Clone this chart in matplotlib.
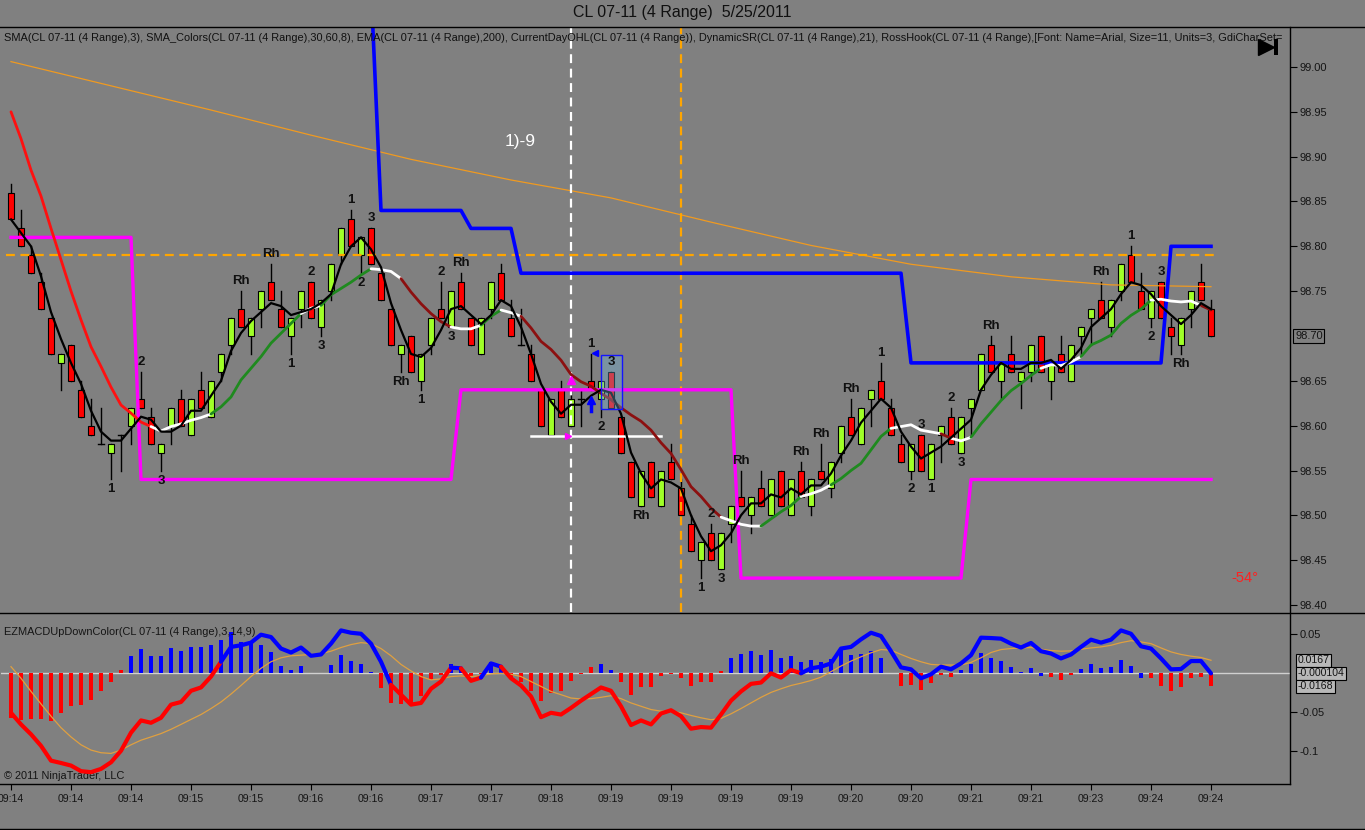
import matplotlib
matplotlib.use("Agg")
import matplotlib.pyplot as plt
from matplotlib.patches import Rectangle
from matplotlib.lines import Line2D
import numpy as np
import pandas as pd

plt.rcParams['font.family'] = ['Liberation Sans', 'DejaVu Sans']

BG = '#808080'

# ---- price bars (CL 07-11, 4 range) ----
opens = [98.86, 98.82, 98.79, 98.76, 98.72, 98.67, 98.69, 98.64, 98.60, 98.58,
         98.57, 98.59, 98.60, 98.63, 98.61, 98.57, 98.60, 98.63, 98.59, 98.64,
         98.61, 98.66, 98.69, 98.73, 98.70, 98.73, 98.76, 98.73, 98.70, 98.73,
         98.76, 98.71, 98.75, 98.79, 98.83, 98.79, 98.82, 98.77, 98.73, 98.68,
         98.70, 98.65, 98.69, 98.73, 98.71, 98.76, 98.72, 98.68, 98.73, 98.77,
         98.72, 98.69, 98.68, 98.64, 98.59, 98.64, 98.60, 98.63, 98.65, 98.63,
         98.66, 98.61, 98.56, 98.51, 98.56, 98.51, 98.56, 98.53, 98.49, 98.45,
         98.48, 98.44, 98.49, 98.52, 98.50, 98.53, 98.50, 98.55, 98.50, 98.55,
         98.51, 98.55, 98.53, 98.57, 98.61, 98.58, 98.63, 98.65, 98.62, 98.58,
         98.55, 98.59, 98.54, 98.59, 98.61, 98.57, 98.62, 98.64, 98.69, 98.65,
         98.68, 98.65, 98.66, 98.70, 98.65, 98.68, 98.65, 98.70, 98.72, 98.74,
         98.71, 98.75, 98.79, 98.75, 98.72, 98.76, 98.71, 98.69, 98.73, 98.76,
         98.73]
highs = [98.87, 98.84, 98.80, 98.77, 98.72, 98.68, 98.69, 98.65, 98.63, 98.62,
         98.58, 98.59, 98.62, 98.66, 98.62, 98.58, 98.62, 98.64, 98.63, 98.66,
         98.65, 98.68, 98.72, 98.75, 98.72, 98.75, 98.78, 98.75, 98.72, 98.75,
         98.76, 98.74, 98.78, 98.82, 98.84, 98.81, 98.82, 98.77, 98.73, 98.69,
         98.70, 98.68, 98.72, 98.76, 98.75, 98.77, 98.72, 98.72, 98.76, 98.78,
         98.74, 98.73, 98.69, 98.64, 98.63, 98.65, 98.64, 98.64, 98.68, 98.65,
         98.66, 98.61, 98.56, 98.55, 98.56, 98.55, 98.58, 98.54, 98.50, 98.47,
         98.49, 98.48, 98.51, 98.55, 98.52, 98.55, 98.54, 98.55, 98.54, 98.56,
         98.54, 98.58, 98.56, 98.60, 98.63, 98.62, 98.64, 98.67, 98.63, 98.59,
         98.58, 98.59, 98.58, 98.60, 98.62, 98.61, 98.63, 98.68, 98.70, 98.67,
         98.70, 98.66, 98.69, 98.70, 98.67, 98.70, 98.69, 98.71, 98.73, 98.76,
         98.74, 98.78, 98.80, 98.77, 98.75, 98.76, 98.72, 98.72, 98.75, 98.78,
         98.74]
lows = [98.83, 98.80, 98.77, 98.73, 98.68, 98.64, 98.65, 98.61, 98.59, 98.58,
        98.54, 98.55, 98.58, 98.62, 98.58, 98.55, 98.58, 98.60, 98.59, 98.62,
        98.61, 98.65, 98.68, 98.71, 98.68, 98.71, 98.74, 98.71, 98.68, 98.71,
        98.72, 98.70, 98.74, 98.78, 98.80, 98.77, 98.78, 98.74, 98.69, 98.66,
        98.66, 98.64, 98.68, 98.72, 98.71, 98.73, 98.69, 98.68, 98.72, 98.74,
        98.70, 98.69, 98.65, 98.60, 98.59, 98.61, 98.60, 98.60, 98.64, 98.61,
        98.62, 98.57, 98.52, 98.51, 98.52, 98.51, 98.54, 98.50, 98.46, 98.43,
        98.45, 98.44, 98.47, 98.51, 98.48, 98.51, 98.50, 98.51, 98.50, 98.52,
        98.50, 98.54, 98.52, 98.56, 98.59, 98.58, 98.60, 98.63, 98.59, 98.56,
        98.54, 98.55, 98.54, 98.56, 98.58, 98.57, 98.59, 98.64, 98.66, 98.63,
        98.66, 98.62, 98.65, 98.66, 98.63, 98.66, 98.65, 98.68, 98.69, 98.72,
        98.70, 98.74, 98.76, 98.73, 98.71, 98.72, 98.68, 98.68, 98.71, 98.74,
        98.70]
closes = [98.83, 98.80, 98.77, 98.73, 98.68, 98.68, 98.65, 98.61, 98.59, 98.58,
          98.58, 98.59, 98.62, 98.62, 98.58, 98.58, 98.62, 98.60, 98.63, 98.62,
          98.65, 98.68, 98.72, 98.71, 98.72, 98.75, 98.74, 98.71, 98.72, 98.75,
          98.72, 98.74, 98.78, 98.82, 98.80, 98.81, 98.78, 98.74, 98.69, 98.69,
          98.66, 98.68, 98.72, 98.72, 98.75, 98.73, 98.69, 98.72, 98.76, 98.74,
          98.70, 98.69, 98.65, 98.60, 98.63, 98.61, 98.63, 98.63, 98.64, 98.65,
          98.62, 98.57, 98.52, 98.55, 98.52, 98.55, 98.54, 98.50, 98.46, 98.47,
          98.45, 98.48, 98.51, 98.51, 98.52, 98.51, 98.54, 98.51, 98.54, 98.52,
          98.54, 98.54, 98.56, 98.60, 98.59, 98.62, 98.64, 98.63, 98.59, 98.56,
          98.58, 98.55, 98.58, 98.60, 98.58, 98.61, 98.63, 98.68, 98.66, 98.67,
          98.66, 98.66, 98.69, 98.66, 98.67, 98.66, 98.69, 98.71, 98.73, 98.72,
          98.74, 98.78, 98.76, 98.73, 98.75, 98.72, 98.70, 98.72, 98.75, 98.74,
          98.70]

# SMA_Colors line, read per bar, with its colour runs (r=steep down, m=down, w=flat, g=up)
sma_colors = [98.950, 98.920, 98.885, 98.856, 98.820, 98.785, 98.750, 98.718, 98.688, 98.666,
              98.643, 98.623, 98.614, 98.604, 98.599, 98.594, 98.599, 98.602, 98.606, 98.609,
              98.613, 98.621, 98.632, 98.651, 98.664, 98.677, 98.692, 98.703, 98.714, 98.725,
              98.731, 98.734, 98.746, 98.753, 98.760, 98.768, 98.775, 98.774, 98.772, 98.764,
              98.749, 98.736, 98.725, 98.716, 98.710, 98.708, 98.708, 98.712, 98.722, 98.729,
              98.726, 98.722, 98.709, 98.694, 98.685, 98.673, 98.657, 98.649, 98.644, 98.636,
              98.629, 98.620, 98.612, 98.605, 98.595, 98.581, 98.569, 98.551, 98.532, 98.521,
              98.508, 98.498, 98.494, 98.490, 98.488, 98.488, 98.496, 98.504, 98.511, 98.521,
              98.524, 98.528, 98.534, 98.541, 98.550, 98.558, 98.573, 98.588, 98.597, 98.599,
              98.601, 98.595, 98.593, 98.591, 98.586, 98.583, 98.587, 98.602, 98.615, 98.628,
              98.639, 98.647, 98.656, 98.664, 98.668, 98.667, 98.671, 98.677, 98.690, 98.695,
              98.701, 98.714, 98.723, 98.730, 98.740, 98.741, 98.739, 98.738, 98.739, 98.734,
              98.729]
sma_color_runs = [('r', 14), ('w', 6), ('g', 9), ('w', 2), ('g', 5), ('w', 3), ('m', 5),
                  ('w', 3), ('g', 2), ('w', 2), ('m', 20), ('w', 4), ('g', 4), ('w', 3),
                  ('g', 6), ('w', 5), ('m', 1), ('w', 2), ('g', 7), ('w', 4), ('g', 7),
                  ('w', 5), ('m', 2)]

# EMA(200), read every 10 bars
ema_bars = [0, 10, 20, 30, 40, 50, 60, 70, 80, 90, 100, 110, 120]
ema_vals = [99.006, 98.979, 98.952, 98.924, 98.897, 98.874, 98.854, 98.827, 98.801,
            98.780, 98.766, 98.757, 98.755]

# DynamicSR levels (blue) and CurrentDayOHL levels (magenta): first bar, last bar, value
dsr_first = [36, 37, 46, 51, 90, 116]
dsr_last = [36, 45, 50, 89, 115, 120]
dsr_vals = [99.09, 98.84, 98.82, 98.77, 98.67, 98.80]
ohl_first = [0, 13, 45, 73, 96]
ohl_last = [12, 44, 72, 95, 120]
ohl_vals = [98.81, 98.54, 98.64, 98.43, 98.54]
prior_level = 98.79

# RossHook labels: bar, text, above/below
hook_labels = [(10, '1', 'b'), (13, '2', 'a'), (15, '3', 'b'), (23, 'Rh', 'a'), (26, 'Rh', 'a'),
               (28, '1', 'b'), (30, '2', 'a'), (31, '3', 'b'), (34, '1', 'a'), (35, '2', 'b'),
               (36, '3', 'a'), (39, 'Rh', 'b'), (41, '1', 'b'), (43, '2', 'a'), (44, '3', 'b'),
               (45, 'Rh', 'a'), (58, '1', 'a'), (59, '2', 'b'), (60, '3', 'a'), (63, 'Rh', 'b'),
               (69, '1', 'b'), (70, '2', 'a'), (71, '3', 'b'), (73, 'Rh', 'a'), (79, 'Rh', 'a'),
               (81, 'Rh', 'a'), (84, 'Rh', 'a'), (87, '1', 'a'), (90, '2', 'b'), (91, '3', 'a'),
               (92, '1', 'b'), (94, '2', 'a'), (95, '3', 'b'), (98, 'Rh', 'a'), (109, 'Rh', 'a'),
               (112, '1', 'a'), (114, '2', 'b'), (115, '3', 'a'), (117, 'Rh', 'b')]

# ---- EZMACD panel ----
macd = [-0.0508, -0.0657, -0.0784, -0.0932, -0.1123, -0.1153, -0.1186, -0.1258, -0.1271, -0.1229,
        -0.1144, -0.0996, -0.0763, -0.0606, -0.0636, -0.0572, -0.0403, -0.0369, -0.0225, -0.0182,
        -0.0042, 0.0148, 0.0339, 0.0360, 0.0394, 0.0496, 0.0466, 0.0318, 0.0267, 0.0331,
        0.0225, 0.0242, 0.0381, 0.0551, 0.0521, 0.0508, 0.0381, 0.0148, -0.0148, -0.0275,
        -0.0403, -0.0381, -0.0199, -0.0106, 0.0072, 0.0064, -0.0097, -0.0055, 0.0127, 0.0085,
        -0.0064, -0.0157, -0.0297, -0.0564, -0.0508, -0.0530, -0.0445, -0.0352, -0.0267, -0.0182,
        -0.0225, -0.0424, -0.0665, -0.0606, -0.0657, -0.0517, -0.0475, -0.0551, -0.0712, -0.0691,
        -0.0699, -0.0530, -0.0352, -0.0233, -0.0136, -0.0119, 0.0000, -0.0055, 0.0042, 0.0000,
        0.0064, 0.0085, 0.0127, 0.0318, 0.0339, 0.0436, 0.0521, 0.0479, 0.0284, 0.0076,
        0.0051, -0.0064, -0.0013, 0.0085, 0.0051, 0.0127, 0.0233, 0.0458, 0.0453, 0.0445,
        0.0381, 0.0331, 0.0390, 0.0284, 0.0254, 0.0191, 0.0242, 0.0339, 0.0432, 0.0394,
        0.0432, 0.0551, 0.0508, 0.0347, 0.0318, 0.0191, 0.0051, 0.0055, 0.0157, 0.0157,
        -0.0001]
signal = [0.0085, -0.0064, -0.0233, -0.0394, -0.0551, -0.0699, -0.0818, -0.0919, -0.0987, -0.1021,
          -0.1030, -0.0987, -0.0919, -0.0860, -0.0818, -0.0775, -0.0720, -0.0657, -0.0593, -0.0530,
          -0.0453, -0.0369, -0.0267, -0.0157, -0.0042, 0.0064, 0.0148, 0.0199, 0.0225, 0.0233,
          0.0242, 0.0254, 0.0284, 0.0331, 0.0369, 0.0394, 0.0381, 0.0318, 0.0225, 0.0114,
          0.0030, -0.0042, -0.0085, -0.0072, -0.0042, -0.0034, -0.0042, -0.0030, -0.0008, 0.0000,
          -0.0013, -0.0042, -0.0106, -0.0169, -0.0233, -0.0275, -0.0318, -0.0330, -0.0326, -0.0309,
          -0.0288, -0.0326, -0.0381, -0.0424, -0.0466, -0.0487, -0.0487, -0.0508, -0.0542, -0.0572,
          -0.0597, -0.0580, -0.0521, -0.0453, -0.0381, -0.0309, -0.0246, -0.0199, -0.0157, -0.0127,
          -0.0093, -0.0050, 0.0021, 0.0093, 0.0157, 0.0212, 0.0263, 0.0305, 0.0297, 0.0242,
          0.0191, 0.0148, 0.0114, 0.0106, 0.0106, 0.0106, 0.0140, 0.0199, 0.0267, 0.0305,
          0.0318, 0.0326, 0.0331, 0.0309, 0.0292, 0.0284, 0.0288, 0.0309, 0.0326, 0.0339,
          0.0360, 0.0394, 0.0419, 0.0403, 0.0381, 0.0326, 0.0275, 0.0242, 0.0220, 0.0203,
          0.0167]
hist = [-0.0572, -0.0606, -0.0593, -0.0593, -0.0614, -0.0508, -0.0424, -0.0403, -0.0339, -0.0233,
        -0.0106, 0.0042, 0.0225, 0.0318, 0.0225, 0.0225, 0.0326, 0.0284, 0.0339, 0.0339,
        0.0360, 0.0424, 0.0530, 0.0403, 0.0411, 0.0369, 0.0275, 0.0097, 0.0042, 0.0097,
        0.0008, 0.0003, 0.0106, 0.0233, 0.0161, 0.0119, 0.0013, -0.0191, -0.0381, -0.0394,
        -0.0390, -0.0297, -0.0085, -0.0020, 0.0114, 0.0085, -0.0042, -0.0010, 0.0140, 0.0064,
        -0.0055, -0.0106, -0.0225, -0.0360, -0.0254, -0.0225, -0.0097, -0.0010, 0.0076, 0.0119,
        0.0042, -0.0106, -0.0275, -0.0182, -0.0182, -0.0030, -0.0008, -0.0055, -0.0157, -0.0106,
        -0.0106, 0.0030, 0.0199, 0.0246, 0.0288, 0.0233, 0.0297, 0.0199, 0.0220, 0.0148,
        0.0169, 0.0148, 0.0182, 0.0297, 0.0233, 0.0254, 0.0288, 0.0199, 0.0005, -0.0161,
        -0.0148, -0.0212, -0.0127, -0.0020, -0.0051, 0.0042, 0.0119, 0.0263, 0.0199, 0.0161,
        0.0085, 0.0013, 0.0072, -0.0030, -0.0042, -0.0085, -0.0020, 0.0055, 0.0119, 0.0072,
        0.0085, 0.0169, 0.0097, -0.0055, -0.0055, -0.0157, -0.0233, -0.0182, -0.0055, -0.0042,
        -0.0168]
hist_color_runs = [('r', 12), ('b', 25), ('r', 7), ('b', 2), ('r', 2), ('b', 2), ('r', 9),
                   ('b', 2), ('r', 11), ('b', 17), ('r', 6), ('b', 9), ('r', 3), ('b', 7), ('r', 7)]
macd_color_runs = [('r', 21), ('b', 17), ('r', 6), ('b', 1), ('r', 2), ('b', 2), ('r', 30), ('b', 42)]

time_labels = ['09:14', '09:14', '09:14', '09:15', '09:15', '09:16', '09:16', '09:17', '09:17',
               '09:18', '09:19', '09:19', '09:19', '09:19', '09:20', '09:20', '09:21', '09:21',
               '09:23', '09:24', '09:24']
price_ticks = [98.40, 98.45, 98.50, 98.55, 98.60, 98.65, 98.75, 98.80, 98.85, 98.90, 98.95, 99.00]
macd_ticks = [0.05, -0.05, -0.1]
macd_tick_labels = ['0.05', '-0.05', '-0.1']

n = len(closes)
xs = np.arange(n)


def runs_to_codes(runs):
    return ''.join(c * k for c, k in runs)


def colored_line(axis, x, y, codes, palette, lw, z):
    i = 0
    while i < len(x) - 1:
        j = i
        while j < len(x) - 1 and codes[j] == codes[i]:
            j += 1
        axis.plot(x[i:j + 1], y[i:j + 1], color=palette[codes[i]], lw=lw,
                  solid_joinstyle='round', solid_capstyle='round', zorder=z)
        i = j


def levels_to_series(first, last, vals):
    s = np.full(n, np.nan)
    for a, b, v in zip(first, last, vals):
        s[a:b + 1] = v
    return s


W, H = 1365.0, 830.0


def px_rect(x0, y0, x1, y1):
    return [x0 / W, 1 - y1 / H, (x1 - x0) / W, (y1 - y0) / H]


fig = plt.figure(figsize=(W / 100, H / 100), dpi=100, facecolor=BG)
ax = fig.add_axes(px_rect(1, 27, 1290, 612), facecolor=BG)
ax2 = fig.add_axes(px_rect(1, 614, 1290, 784), facecolor=BG)

for a in (ax, ax2):
    a.set_xlim(-1.0, 127.9)
    for sp in a.spines.values():
        sp.set_visible(False)

ax.set_ylim(98.3922, 99.0446)
ax2.set_ylim(-0.1423, 0.0762)

# ---- price panel ----
up_col, dn_col = '#a0ff28', '#ff0000'
for i in range(n):
    o, h, l, c = opens[i], highs[i], lows[i], closes[i]
    ax.plot([i, i], [l, h], color='black', lw=1, zorder=2)
    if abs(c - o) < 1e-9:
        ax.plot([i - 0.34, i + 0.34], [c, c], color='black', lw=1, zorder=2)
    else:
        ax.add_patch(Rectangle((i - 0.34, min(o, c)), 0.68, abs(c - o),
                               fc=up_col if c > o else dn_col, ec='black', lw=0.8, zorder=2))

ax.plot(ema_bars, ema_vals, color='#f09a20', lw=0.9, zorder=3)
ax.plot([-0.5, 120.7], [prior_level, prior_level], color='#ffa500', lw=1.6,
        dashes=(4, 2.5), zorder=3)
ax.axvline(56, color='white', lw=1.6, dashes=(4, 2.5), zorder=3)
ax.axvline(67, color='#ffa500', lw=1.6, dashes=(4, 2.5), zorder=3)

ax.plot(xs, levels_to_series(ohl_first, ohl_last, ohl_vals), color='#ff00ff', lw=2.4, zorder=4)
ax.plot(xs, levels_to_series(dsr_first, dsr_last, dsr_vals), color='#0000ff', lw=2.6, zorder=4)

ax.plot([52, 65], [98.588, 98.588], color='white', lw=1.8, zorder=4)

sma_pal = {'r': '#ff1010', 'w': '#ffffff', 'g': '#1f8a1f', 'm': '#8c1010'}
colored_line(ax, xs, np.array(sma_colors), runs_to_codes(sma_color_runs), sma_pal, 2.0, 5)

sma3 = pd.Series(closes).rolling(3, min_periods=1).mean().values
ax.plot(xs, sma3, color='black', lw=1.6, zorder=6)

# signal box and arrows
ax.add_patch(Rectangle((59, 98.619), 2.07, 0.060, fc='#70b8e0', alpha=0.35, ec='none', zorder=6))
ax.add_patch(Rectangle((59, 98.619), 2.07, 0.060, fc='none', ec='#1414ff', lw=1, zorder=6))
ax.plot([56], [98.651], marker='^', ms=6, color='#ff00ff', zorder=7)
ax.plot([55.7], [98.588], marker='>', ms=5, color='#ff00ff', zorder=7)
ax.plot([58, 58], [98.616, 98.626], color='#0000ff', lw=2.5, zorder=7)
ax.plot([58], [98.629], marker='^', ms=6, color='#0000ff', zorder=7)
ax.plot([58.4], [98.681], marker='<', ms=5, color='#0000ff', zorder=7)

for b, t, pos in hook_labels:
    if pos == 'a':
        ax.annotate(t, (b, highs[b]), xytext=(0, 10), textcoords='offset pixels',
                    ha='center', va='center', fontsize=9.5, fontweight='bold', color='#101010',
                    zorder=8)
    else:
        ax.annotate(t, (b, lows[b]), xytext=(0, -10), textcoords='offset pixels',
                    ha='center', va='center', fontsize=9.5, fontweight='bold', color='#101010',
                    zorder=8)

ax.text(50.9, 98.917, '1)-9', color='white', fontsize=12.5, ha='center', va='center')
ax.text(123.4, 98.43, '-54\u00b0', color='#ff2020', fontsize=10.5, ha='center', va='center')

# indicator list as shown (it runs out at the price scale)
legend_txt = ("SMA(CL 07-11 (4 Range),3), SMA_Colors(CL 07-11 (4 Range),30,60,8), "
              "EMA(CL 07-11 (4 Range),200), CurrentDayOHL(CL 07-11 (4 Range)), "
              "DynamicSR(CL 07-11 (4 Range),21), RossHook(CL 07-11 (4 Range),[Font: Name=Arial, "
              "Size=11, Units=3, GdiCharSet=")
ax.text(0.002, 0.981, legend_txt, transform=ax.transAxes, fontsize=7.9, color='#101010',
        ha='left', va='center', zorder=9)

# go-to-end icon
ax.plot([0.9815], [0.9658], marker='>', ms=11, color='black', transform=ax.transAxes,
        clip_on=False, zorder=10)
ax.add_patch(Rectangle((0.9876, 0.952), 0.0031, 0.0274, transform=ax.transAxes,
                       fc='black', ec='none', clip_on=False, zorder=10))

ax.set_xticks([])
ax.yaxis.tick_right()
ax.set_yticks(price_ticks)
ax.set_yticklabels(['%.2f' % v for v in price_ticks])
ax.tick_params(axis='y', direction='out', length=5, width=0.8, labelsize=8,
               labelcolor='#151515', pad=2)
ax.text(1.004, 98.70, '98.70', transform=ax.get_yaxis_transform(), fontsize=8,
        ha='left', va='center', color='#151515',
        bbox=dict(boxstyle='square,pad=0.15', fc=BG, ec='black', lw=0.8))

# ---- MACD panel ----
ax2.axhline(0, color='#d0d0d0', lw=1, zorder=1)
hcodes = runs_to_codes(hist_color_runs)
pal = {'r': '#ff0000', 'b': '#0000ff'}
ax2.bar(xs, hist, width=0.4, color=[pal[c] for c in hcodes], zorder=2)
ax2.plot(xs, signal, color='#e0a040', lw=0.9, zorder=3)
colored_line(ax2, xs, np.array(macd), runs_to_codes(macd_color_runs), pal, 3.0, 4)

ax2.text(0.002, 0.894, 'EZMACDUpDownColor(CL 07-11 (4 Range),3,14,9)', transform=ax2.transAxes,
         fontsize=7.9, color='#151515', ha='left', va='center')
ax2.text(0.002, 0.045, '\u00a9 2011 NinjaTrader, LLC', transform=ax2.transAxes,
         fontsize=7.9, color='#151515', ha='left', va='center')

ax2.yaxis.tick_right()
ax2.set_yticks(macd_ticks)
ax2.set_yticklabels(macd_tick_labels)
ax2.tick_params(axis='y', direction='out', length=5, width=0.8, labelsize=8,
                labelcolor='#151515', pad=2)
ax2.set_xticks(list(range(0, n, 6)))
ax2.set_xticklabels(time_labels)
ax2.tick_params(axis='x', direction='out', length=4, width=0.8, labelsize=7.6,
                labelcolor='#151515', pad=3)

for val, txt in [(0.0167, '0.0167'), (0.0, '-0.000104'), (-0.0168, '-0.0168')]:
    ax2.text(1.006, val, txt, transform=ax2.get_yaxis_transform(), fontsize=7.6,
             ha='left', va='center', color='#151515',
             bbox=dict(boxstyle='square,pad=0.12', fc='#b8b8b8', ec='black', lw=0.8))

# frame lines
def hline(y, x0=0, x1=W):
    fig.add_artist(Line2D([x0 / W, x1 / W], [1 - y / H, 1 - y / H], transform=fig.transFigure,
                          color='black', lw=1))


hline(27)
hline(613)
hline(784, 0, 1290)
hline(829)
fig.add_artist(Line2D([1290 / W, 1290 / W], [1 - 27 / H, 1 - 784 / H], transform=fig.transFigure,
                      color='black', lw=1))

fig.text(682 / W, 1 - 13 / H, 'CL 07-11 (4 Range)  5/25/2011', ha='center', va='center',
         fontsize=11.5, color='#101010')

fig.savefig('out.png', dpi=100, facecolor=BG)
